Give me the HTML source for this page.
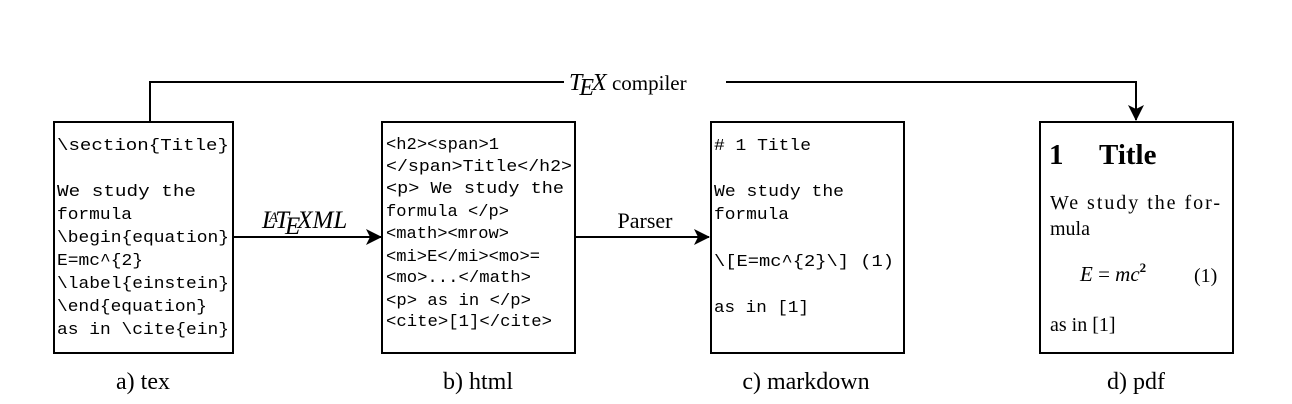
<!DOCTYPE html>
<html><head><meta charset="utf-8"><style>
html,body{margin:0;padding:0;background:#fff;width:1292px;height:404px;overflow:hidden}
svg{display:block}
.m{font-family:"Liberation Mono",monospace;font-size:17px;fill:#000}
.s{font-family:"Liberation Serif",serif;fill:#000}
</style></head><body>
<svg width="1292" height="404" viewBox="0 0 1292 404">
<defs><marker id="ah" markerWidth="16" markerHeight="16" refX="15" refY="8" orient="auto" markerUnits="userSpaceOnUse"><path d="M0,0 L16,8 L0,16 L4,8 Z" fill="#000"/></marker></defs>

<path d="M150,121 V82 H1136 V120" fill="none" stroke="#000" stroke-width="2" marker-end="url(#ah)"/>
<rect x="564" y="68" width="162" height="28" fill="#fff"/>
<text class="s" x="569" y="90" font-size="24"><tspan font-style="italic">T</tspan><tspan font-style="italic" dx="-3" dy="5">E</tspan><tspan font-style="italic" dx="-2" dy="-5">X</tspan><tspan font-size="21"> compiler</tspan></text>

<rect x="54" y="122" width="179" height="231" fill="none" stroke="#000" stroke-width="2"/>
<g class="m">
<text x="57" y="150" textLength="172" lengthAdjust="spacingAndGlyphs">\section{Title}</text>
<text x="57" y="196" textLength="139" lengthAdjust="spacingAndGlyphs">We study the</text>
<text x="57" y="219" textLength="75" lengthAdjust="spacingAndGlyphs">formula</text>
<text x="57" y="242" textLength="172" lengthAdjust="spacingAndGlyphs">\begin{equation}</text>
<text x="57" y="265" textLength="86" lengthAdjust="spacingAndGlyphs">E=mc^{2}</text>
<text x="57" y="288" textLength="172" lengthAdjust="spacingAndGlyphs">\label{einstein}</text>
<text x="57" y="311" textLength="150" lengthAdjust="spacingAndGlyphs">\end{equation}</text>
<text x="57" y="334" textLength="172" lengthAdjust="spacingAndGlyphs">as in \cite{ein}</text>
</g>
<text class="s" x="143" y="389" font-size="24" text-anchor="middle">a) tex</text>

<line x1="233" y1="237" x2="381" y2="237" stroke="#000" stroke-width="2" marker-end="url(#ah)"/>
<text class="s" x="262" y="228" font-size="25" font-style="italic">L<tspan font-size="15" dx="-7" dy="-6">A</tspan><tspan dx="-3" dy="6">T</tspan><tspan dx="-4" dy="6">E</tspan><tspan dx="-3" dy="-6">XML</tspan></text>

<rect x="382" y="122" width="193" height="231" fill="none" stroke="#000" stroke-width="2"/>
<g class="m">
<text x="386" y="149" textLength="113" lengthAdjust="spacingAndGlyphs">&lt;h2&gt;&lt;span&gt;1</text>
<text x="386" y="171" textLength="186" lengthAdjust="spacingAndGlyphs">&lt;/span&gt;Title&lt;/h2&gt;</text>
<text x="386" y="193" textLength="178" lengthAdjust="spacingAndGlyphs">&lt;p&gt; We study the</text>
<text x="386" y="216" textLength="123" lengthAdjust="spacingAndGlyphs">formula &lt;/p&gt;</text>
<text x="386" y="238" textLength="123" lengthAdjust="spacingAndGlyphs">&lt;math&gt;&lt;mrow&gt;</text>
<text x="386" y="261" textLength="154" lengthAdjust="spacingAndGlyphs">&lt;mi&gt;E&lt;/mi&gt;&lt;mo&gt;=</text>
<text x="386" y="282" textLength="145" lengthAdjust="spacingAndGlyphs">&lt;mo&gt;...&lt;/math&gt;</text>
<text x="386" y="305" textLength="145" lengthAdjust="spacingAndGlyphs">&lt;p&gt; as in &lt;/p&gt;</text>
<text x="386" y="326" textLength="166" lengthAdjust="spacingAndGlyphs">&lt;cite&gt;[1]&lt;/cite&gt;</text>
</g>
<text class="s" x="478" y="389" font-size="24" text-anchor="middle">b) html</text>

<line x1="575" y1="237" x2="709" y2="237" stroke="#000" stroke-width="2" marker-end="url(#ah)"/>
<text class="s" x="645" y="228" font-size="22" text-anchor="middle">Parser</text>

<rect x="711" y="122" width="193" height="231" fill="none" stroke="#000" stroke-width="2"/>
<g class="m">
<text x="714" y="150" textLength="97" lengthAdjust="spacingAndGlyphs"># 1 Title</text>
<text x="714" y="196" textLength="130" lengthAdjust="spacingAndGlyphs">We study the</text>
<text x="714" y="219" textLength="75" lengthAdjust="spacingAndGlyphs">formula</text>
<text x="714" y="266" textLength="180" lengthAdjust="spacingAndGlyphs">\[E=mc^{2}\] (1)</text>
<text x="714" y="312" textLength="95" lengthAdjust="spacingAndGlyphs">as in [1]</text>
</g>
<text class="s" x="806" y="389" font-size="24" text-anchor="middle">c) markdown</text>

<rect x="1040" y="122" width="193" height="231" fill="none" stroke="#000" stroke-width="2"/>
<g class="s">
<text x="1049" y="164" font-size="29" font-weight="bold">1</text>
<text x="1099" y="164" font-size="29" font-weight="bold">Title</text>
<text x="1050" y="209" font-size="20" textLength="170" lengthAdjust="spacing">We study the for-</text>
<text x="1050" y="235" font-size="20">mula</text>
<text x="1080" y="281" font-size="21" font-style="italic">E <tspan font-style="normal">=</tspan> mc<tspan font-size="13" font-style="normal" font-weight="bold" dy="-9">2</tspan></text>
<text x="1194" y="282" font-size="20">(1)</text>
<text x="1050" y="331" font-size="20">as in [1]</text>
</g>
<text class="s" x="1136" y="389" font-size="24" text-anchor="middle">d) pdf</text>
</svg>
</body></html>
